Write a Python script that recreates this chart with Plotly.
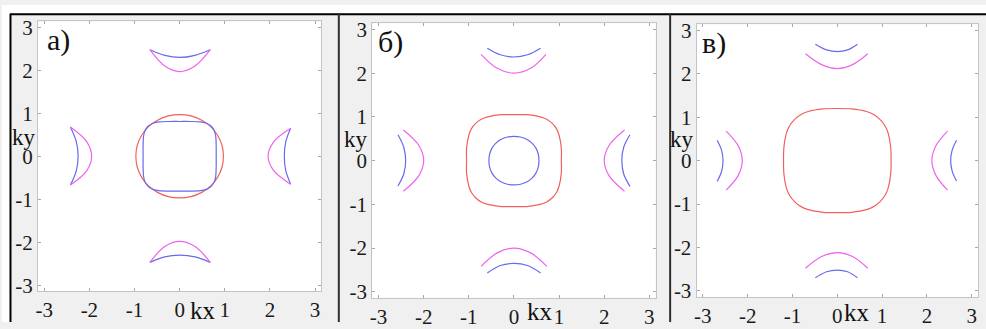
import plotly.graph_objects as go

W, H = 986, 329

# ---------------- data (units of k) ----------------
TICKS = [-3, -2, -1, 0, 1, 2, 3]
TICK_TEXT = ["-3", "-2", "-1", "0", "1", "2", "3"]
PANEL_LABELS = ["a)", "б)", "в)"]

# panel a
A_RED_X = [0.97, 0.94, 0.84, 0.69, 0.49, 0.25, 0.00, -0.25, -0.49, -0.69, -0.84, -0.94, -0.97,
           -0.94, -0.84, -0.69, -0.49, -0.25, 0.00, 0.25, 0.49, 0.69, 0.84, 0.94, 0.97]
A_RED_Y = [0.00, 0.25, 0.49, 0.69, 0.84, 0.94, 0.97, 0.94, 0.84, 0.69, 0.49, 0.25, 0.00,
           -0.25, -0.49, -0.69, -0.84, -0.94, -0.97, -0.94, -0.84, -0.69, -0.49, -0.25, 0.00]
A_BLUE_X = [0.81, 0.81, 0.80, 0.77, 0.70, 0.59, 0.46, 0.22, 0.00,
            -0.22, -0.46, -0.59, -0.70, -0.77, -0.80, -0.81, -0.81,
            -0.81, -0.80, -0.77, -0.70, -0.59, -0.46, -0.22, 0.00,
            0.22, 0.46, 0.59, 0.70, 0.77, 0.80, 0.81, 0.81]
A_BLUE_Y = [0.00, 0.22, 0.46, 0.59, 0.70, 0.77, 0.80, 0.81, 0.81,
            0.81, 0.80, 0.77, 0.70, 0.59, 0.46, 0.22, 0.00,
            -0.22, -0.46, -0.59, -0.70, -0.77, -0.80, -0.81, -0.81,
            -0.81, -0.80, -0.77, -0.70, -0.59, -0.46, -0.22, 0.00]
A_TOP_BLUE_X = [-0.66, -0.33, 0.00, 0.34, 0.68]
A_TOP_BLUE_Y = [2.48, 2.35, 2.30, 2.35, 2.48]
A_TOP_MAG_X = [-0.66, -0.33, 0.00, 0.34, 0.68]
A_TOP_MAG_Y = [2.48, 2.10, 1.97, 2.10, 2.48]
A_BOT_BLUE_X = [-0.66, -0.33, 0.00, 0.34, 0.68]
A_BOT_BLUE_Y = [-2.47, -2.34, -2.30, -2.34, -2.47]
A_BOT_MAG_X = [-0.66, -0.33, 0.00, 0.34, 0.68]
A_BOT_MAG_Y = [-2.47, -2.10, -1.98, -2.10, -2.47]
A_LEFT_BLUE_X = [-2.42, -2.29, -2.25, -2.29, -2.42]
A_LEFT_BLUE_Y = [0.68, 0.34, 0.00, -0.34, -0.67]
A_LEFT_MAG_X = [-2.42, -2.06, -1.95, -2.06, -2.42]
A_LEFT_MAG_Y = [0.68, 0.34, 0.00, -0.34, -0.67]
A_RIGHT_BLUE_X = [2.46, 2.35, 2.32, 2.35, 2.46]
A_RIGHT_BLUE_Y = [0.65, 0.33, 0.00, -0.33, -0.65]
A_RIGHT_MAG_X = [2.46, 2.08, 1.96, 2.08, 2.46]
A_RIGHT_MAG_Y = [0.65, 0.33, 0.00, -0.33, -0.65]

# panel b
B_RED_X = [1.05, 1.05, 1.00, 0.945, 0.85, 0.725, 0.58, 0.28, 0.00,
           -0.28, -0.58, -0.725, -0.85, -0.945, -1.00, -1.05, -1.05,
           -1.05, -1.00, -0.945, -0.85, -0.725, -0.58, -0.28, 0.00,
           0.28, 0.58, 0.725, 0.85, 0.945, 1.00, 1.05, 1.05]
B_RED_Y = [0.00, 0.28, 0.58, 0.725, 0.85, 0.945, 1.00, 1.05, 1.05,
           1.05, 1.00, 0.945, 0.85, 0.725, 0.58, 0.28, 0.00,
           -0.28, -0.58, -0.725, -0.85, -0.945, -1.00, -1.05, -1.05,
           -1.05, -1.00, -0.945, -0.85, -0.725, -0.58, -0.28, 0.00]
B_BLUE_X = [0.555, 0.54, 0.49, 0.40, 0.28, 0.145, 0.00, -0.145, -0.28, -0.40, -0.49, -0.54, -0.555,
            -0.54, -0.49, -0.40, -0.28, -0.145, 0.00, 0.145, 0.28, 0.40, 0.49, 0.54, 0.555]
B_BLUE_Y = [0.00, 0.145, 0.28, 0.40, 0.49, 0.54, 0.555, 0.54, 0.49, 0.40, 0.28, 0.145, 0.00,
            -0.145, -0.28, -0.40, -0.49, -0.54, -0.555, -0.54, -0.49, -0.40, -0.28, -0.145, 0.00]
B_TOP_BLUE_X = [-0.59, -0.30, 0.00, 0.30, 0.59]
B_TOP_BLUE_Y = [2.57, 2.42, 2.37, 2.42, 2.57]
B_TOP_MAG_X = [-0.73, -0.37, 0.00, 0.37, 0.71]
B_TOP_MAG_Y = [2.43, 2.11, 2.00, 2.11, 2.43]
B_BOT_BLUE_X = [-0.59, -0.30, 0.00, 0.30, 0.59]
B_BOT_BLUE_Y = [-2.57, -2.40, -2.35, -2.40, -2.57]
B_BOT_MAG_X = [-0.73, -0.37, 0.00, 0.37, 0.73]
B_BOT_MAG_Y = [-2.42, -2.11, -2.00, -2.11, -2.42]
B_LEFT_BLUE_X = [-2.57, -2.44, -2.40, -2.44, -2.57]
B_LEFT_BLUE_Y = [0.59, 0.30, 0.00, -0.30, -0.58]
B_LEFT_MAG_X = [-2.45, -2.11, -2.00, -2.11, -2.45]
B_LEFT_MAG_Y = [0.70, 0.35, 0.00, -0.35, -0.70]
B_RIGHT_BLUE_X = [2.57, 2.43, 2.39, 2.43, 2.57]
B_RIGHT_BLUE_Y = [0.59, 0.30, 0.00, -0.30, -0.59]
B_RIGHT_MAG_X = [2.45, 2.11, 2.00, 2.11, 2.45]
B_RIGHT_MAG_Y = [0.70, 0.35, 0.00, -0.35, -0.70]

# panel c
C_RED_X = [1.20, 1.19, 1.13, 1.06, 0.95, 0.81, 0.65, 0.32, 0.00,
           -0.32, -0.65, -0.81, -0.95, -1.06, -1.13, -1.19, -1.20,
           -1.19, -1.13, -1.06, -0.95, -0.81, -0.65, -0.32, 0.00,
           0.32, 0.65, 0.81, 0.95, 1.06, 1.13, 1.19, 1.20]
C_RED_Y = [0.00, 0.32, 0.65, 0.81, 0.95, 1.06, 1.13, 1.19, 1.20,
           1.19, 1.13, 1.06, 0.95, 0.81, 0.65, 0.32, 0.00,
           -0.32, -0.65, -0.81, -0.95, -1.06, -1.13, -1.19, -1.20,
           -1.19, -1.13, -1.06, -0.95, -0.81, -0.65, -0.32, 0.00]
C_TOP_BLUE_X = [-0.49, -0.24, 0.00, 0.23, 0.45]
C_TOP_BLUE_Y = [2.68, 2.55, 2.51, 2.55, 2.68]
C_TOP_MAG_X = [-0.71, -0.35, 0.00, 0.34, 0.68]
C_TOP_MAG_Y = [2.46, 2.21, 2.12, 2.21, 2.46]
C_BOT_BLUE_X = [-0.49, -0.24, 0.00, 0.23, 0.45]
C_BOT_BLUE_Y = [-2.70, -2.56, -2.52, -2.56, -2.70]
C_BOT_MAG_X = [-0.71, -0.35, 0.00, 0.34, 0.68]
C_BOT_MAG_Y = [-2.48, -2.21, -2.12, -2.21, -2.48]
C_LEFT_BLUE_X = [-2.68, -2.58, -2.55, -2.58, -2.68]
C_LEFT_BLUE_Y = [0.47, 0.23, 0.00, -0.24, -0.48]
C_LEFT_MAG_X = [-2.48, -2.21, -2.12, -2.21, -2.48]
C_LEFT_MAG_Y = [0.68, 0.34, 0.00, -0.34, -0.68]
C_RIGHT_BLUE_X = [2.66, 2.56, 2.53, 2.56, 2.66]
C_RIGHT_BLUE_Y = [0.47, 0.23, 0.00, -0.23, -0.47]
C_RIGHT_MAG_X = [2.46, 2.20, 2.11, 2.20, 2.46]
C_RIGHT_MAG_Y = [0.68, 0.34, 0.00, -0.34, -0.68]

# ---------------- styling ----------------
RED = "rgb(242,95,95)"
BLUE = "rgb(105,105,238)"
MAG = "rgb(238,100,238)"
SERIF = "Liberation Serif"

curves = [
    (1, A_RED_X, A_RED_Y, RED), (1, A_BLUE_X, A_BLUE_Y, BLUE),
    (1, A_TOP_BLUE_X, A_TOP_BLUE_Y, BLUE), (1, A_TOP_MAG_X, A_TOP_MAG_Y, MAG),
    (1, A_BOT_BLUE_X, A_BOT_BLUE_Y, BLUE), (1, A_BOT_MAG_X, A_BOT_MAG_Y, MAG),
    (1, A_LEFT_BLUE_X, A_LEFT_BLUE_Y, BLUE), (1, A_LEFT_MAG_X, A_LEFT_MAG_Y, MAG),
    (1, A_RIGHT_BLUE_X, A_RIGHT_BLUE_Y, BLUE), (1, A_RIGHT_MAG_X, A_RIGHT_MAG_Y, MAG),
    (2, B_RED_X, B_RED_Y, RED), (2, B_BLUE_X, B_BLUE_Y, BLUE),
    (2, B_TOP_BLUE_X, B_TOP_BLUE_Y, BLUE), (2, B_TOP_MAG_X, B_TOP_MAG_Y, MAG),
    (2, B_BOT_BLUE_X, B_BOT_BLUE_Y, BLUE), (2, B_BOT_MAG_X, B_BOT_MAG_Y, MAG),
    (2, B_LEFT_BLUE_X, B_LEFT_BLUE_Y, BLUE), (2, B_LEFT_MAG_X, B_LEFT_MAG_Y, MAG),
    (2, B_RIGHT_BLUE_X, B_RIGHT_BLUE_Y, BLUE), (2, B_RIGHT_MAG_X, B_RIGHT_MAG_Y, MAG),
    (3, C_RED_X, C_RED_Y, RED),
    (3, C_TOP_BLUE_X, C_TOP_BLUE_Y, BLUE), (3, C_TOP_MAG_X, C_TOP_MAG_Y, MAG),
    (3, C_BOT_BLUE_X, C_BOT_BLUE_Y, BLUE), (3, C_BOT_MAG_X, C_BOT_MAG_Y, MAG),
    (3, C_LEFT_BLUE_X, C_LEFT_BLUE_Y, BLUE), (3, C_LEFT_MAG_X, C_LEFT_MAG_Y, MAG),
    (3, C_RIGHT_BLUE_X, C_RIGHT_BLUE_Y, BLUE), (3, C_RIGHT_MAG_X, C_RIGHT_MAG_Y, MAG),
]

fig = go.Figure()
for p, xs, ys, col in curves:
    sfx = "" if p == 1 else str(p)
    fig.add_trace(go.Scatter(
        x=xs, y=ys, mode="lines", xaxis="x" + sfx, yaxis="y" + sfx,
        line=dict(color=col, width=1.2, shape="spline", smoothing=1.0),
        showlegend=False, hoverinfo="skip"))

# plot boxes in pixels: (left, right, top, bottom)
boxes = [(36, 320, 17, 297), (371, 655, 19, 304), (696, 978, 20, 303)]


def ax_common():
    return dict(range=[-3.14, 3.14], tickvals=TICKS, ticktext=TICK_TEXT,
                showgrid=False, zeroline=False, showline=True,
                linecolor="#c4c4c4", linewidth=1, mirror="ticks",
                ticks="inside", ticklen=3, tickcolor="#a8a8a8", tickwidth=1,
                tickfont=dict(family=SERIF, size=21, color="#1a1a1a"),
                fixedrange=True)


layout = dict(width=W, height=H, margin=dict(l=0, r=0, t=0, b=0),
              paper_bgcolor="#f0f0f0", plot_bgcolor="white", showlegend=False)

for i, (l, r, t, b) in enumerate(boxes):
    sfx = "" if i == 0 else str(i + 1)
    xa = ax_common()
    xa.update(domain=[l / W, r / W], anchor="y" + sfx)
    ya = ax_common()
    ya.update(domain=[1 - b / H, 1 - t / H], anchor="x" + sfx)
    layout["xaxis" + sfx] = xa
    layout["yaxis" + sfx] = ya

fig.update_layout(**layout)


def px(x):
    return x / W


def py(y):
    return 1 - y / H


shapes = [
    dict(type="rect", xref="paper", yref="paper", x0=0, x1=1, y0=py(9), y1=1,
         fillcolor="white", line=dict(width=0), layer="below"),
    dict(type="rect", xref="paper", yref="paper", x0=0, x1=px(8), y0=0, y1=1,
         fillcolor="white", line=dict(width=0), layer="below"),
    dict(type="line", xref="paper", yref="paper", x0=px(8), x1=1, y0=py(9.5), y1=py(9.5),
         line=dict(color="black", width=2)),
    dict(type="line", xref="paper", yref="paper", x0=px(8.5), x1=px(8.5), y0=0, y1=py(9),
         line=dict(color="black", width=2)),
    dict(type="line", xref="paper", yref="paper", x0=px(337.5), x1=px(337.5), y0=0, y1=py(9),
         line=dict(color="#303030", width=2)),
    dict(type="line", xref="paper", yref="paper", x0=px(669.5), x1=px(669.5), y0=0, y1=py(9),
         line=dict(color="#303030", width=2)),
]
fig.update_layout(shapes=shapes)

ann = []
label_pos = [(57, 36), (389, 38), (713, 39)]
kx_pos = [(201, 317), (539, 318), (857, 319)]
ky_pos = [(22, 137), (355, 140), (681, 140)]
for i in range(3):
    ann.append(dict(text=PANEL_LABELS[i], x=px(label_pos[i][0]), y=py(label_pos[i][1]),
                    xref="paper", yref="paper", showarrow=False,
                    xanchor="center", yanchor="middle",
                    font=dict(family=SERIF, size=30, color="#111")))
    ann.append(dict(text="kx", x=px(kx_pos[i][0]), y=py(kx_pos[i][1]),
                    xref="paper", yref="paper", showarrow=False,
                    xanchor="center", yanchor="middle",
                    font=dict(family=SERIF, size=25, color="#111")))
    ann.append(dict(text="ky", x=px(ky_pos[i][0]), y=py(ky_pos[i][1]),
                    xref="paper", yref="paper", showarrow=False,
                    xanchor="center", yanchor="middle",
                    font=dict(family=SERIF, size=23, color="#111")))
fig.update_layout(annotations=ann)

fig.write_html("out.html")
